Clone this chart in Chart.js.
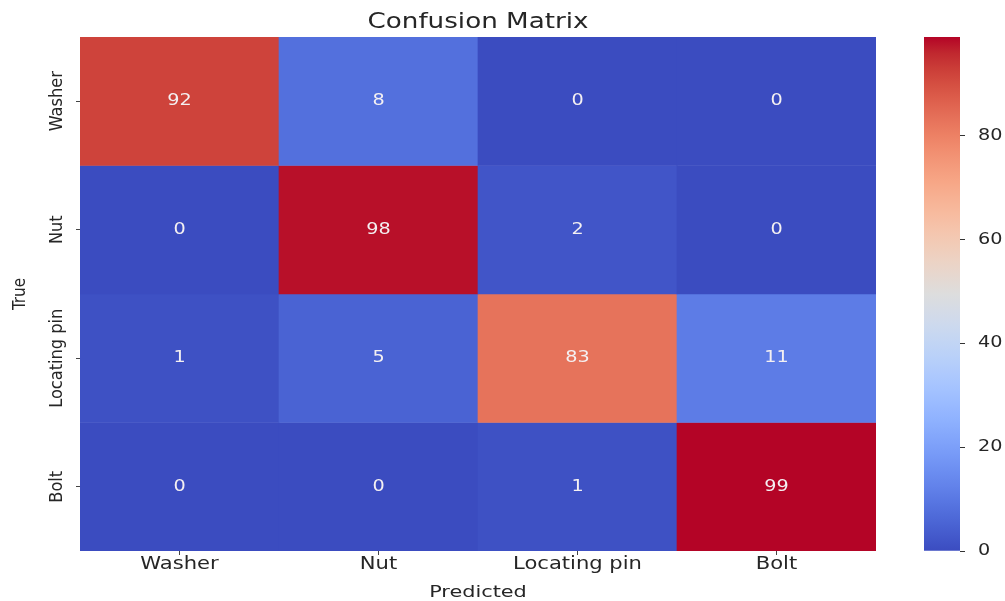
<!DOCTYPE html>
<html>
<head>
<meta charset="utf-8">
<script src="https://cdn.jsdelivr.net/npm/chart.js@4.4.1/dist/chart.umd.min.js"></script>
<style>
  html, body { margin: 0; padding: 0; background: #fff; }
  #wrap { position: relative; width: 1005px; height: 601px; }
  #heat { position: absolute; left: 0; top: 0; }
  #cbar { position: absolute; left: 880px; top: 0; }
</style>
</head>
<body>
<div id="wrap">
  <canvas id="heat" width="876" height="601"></canvas>
  <canvas id="cbar" width="125" height="601"></canvas>
</div>
<script>
// etiquetas de las clases
const predLabels = ['Washer', 'Nut', 'Locating pin', 'Bolt'];
const trueLabels = ['Washer', 'Nut', 'Locating pin', 'Bolt'];

// filas de la matriz (true) -> columnas (predicted)
const rowWasher = [92, 8, 0, 0];
const rowNut = [0, 98, 2, 0];
const rowLocating = [1, 5, 83, 11];
const rowBolt = [0, 0, 1, 99];
const rows = [rowWasher, rowNut, rowLocating, rowBolt];

// barra de color
const cbarTicks = [0, 20, 40, 60, 80];
const vmin = 0;
const vmax = 99;

const textColor = '#262626';

// mapa de color coolwarm (puntos de control)
const coolwarmStops = [
  [59, 76, 192], [68, 90, 204], [77, 104, 215], [87, 117, 225], [98, 130, 234],
  [108, 142, 241], [119, 154, 247], [130, 165, 251], [141, 176, 254], [152, 185, 255],
  [163, 194, 255], [174, 201, 253], [184, 208, 249], [194, 213, 244], [204, 217, 238],
  [213, 219, 230], [221, 221, 221], [229, 216, 209], [236, 211, 197], [241, 204, 184],
  [245, 196, 172], [247, 187, 159], [247, 177, 147], [247, 166, 134], [244, 154, 123],
  [241, 141, 111], [236, 127, 99], [229, 112, 89], [222, 96, 77], [213, 80, 66],
  [203, 62, 56], [192, 40, 47], [180, 4, 38]
];

function coolwarm(t) {
  t = Math.max(0, Math.min(1, t));
  const n = coolwarmStops.length - 1;
  const i = Math.min(n - 1, Math.floor(t * n));
  const f = t * n - i;
  const a = coolwarmStops[i], b = coolwarmStops[i + 1];
  const c = a.map((v, k) => Math.round(v + (b[k] - v) * f));
  return `rgb(${c[0]}, ${c[1]}, ${c[2]})`;
}

// el texto del original sale estirado a lo ancho
function stretchedText(ctx, text, x, y, sx) {
  ctx.save();
  ctx.translate(x, y);
  ctx.scale(sx, 1);
  ctx.fillText(text, 0, 0);
  ctx.restore();
}

/********** titulo, etiquetas y anotaciones **********/
const heatText = {
  id: 'heatText',
  afterDatasetsDraw(chart) {
    const ctx = chart.ctx;
    ctx.save();
    ctx.font = '16px "DejaVu Sans"';
    ctx.fillStyle = '#f4f0f2';
    ctx.textAlign = 'center';
    ctx.textBaseline = 'middle';
    rows.forEach((vals, r) => {
      const meta = chart.getDatasetMeta(r);
      meta.data.forEach((bar, i) => {
        stretchedText(ctx, String(vals[i]), bar.x, (bar.y + bar.base) / 2, 1.2);
      });
    });
    ctx.restore();
  },
  afterDraw(chart) {
    const ctx = chart.ctx;
    const area = chart.chartArea;
    const xScale = chart.scales.x;
    const yScale = chart.scales.y;
    const midX = (area.left + area.right) / 2;
    ctx.save();
    ctx.fillStyle = textColor;
    ctx.textAlign = 'center';
    ctx.textBaseline = 'alphabetic';
    // titulo
    ctx.font = '22px "DejaVu Sans"';
    stretchedText(ctx, 'Confusion Matrix', midX, 28, 1.19);
    // etiquetas eje X
    ctx.font = '17px "DejaVu Sans"';
    predLabels.forEach((lab, i) => {
      stretchedText(ctx, lab, xScale.getPixelForValue(i), 569, 1.24);
    });
    // titulo eje X
    ctx.font = '16px "DejaVu Sans"';
    stretchedText(ctx, 'Predicted', midX, 597, 1.3);
    // etiquetas eje Y giradas
    ctx.textBaseline = 'middle';
    ctx.font = '18px "DejaVu Sans Condensed", "Liberation Sans Narrow", "DejaVu Sans"';
    trueLabels.forEach((lab, r) => {
      const y = yScale.getPixelForValue(r + 0.5);
      ctx.save();
      ctx.translate(57, y);
      ctx.rotate(-Math.PI / 2);
      ctx.fillText(lab, 0, 0);
      ctx.restore();
    });
    ctx.restore();
  }
};

const heatDatasets = rows.map((vals, r) => ({
  label: trueLabels[r],
  data: vals.map(() => [r, r + 1]),
  backgroundColor: vals.map(v => coolwarm((v - vmin) / (vmax - vmin))),
  borderWidth: 0,
  borderSkipped: false,
  grouped: false,
  barPercentage: 1,
  categoryPercentage: 1
}));

new Chart(document.getElementById('heat').getContext('2d'), {
  type: 'bar',
  data: { labels: predLabels, datasets: heatDatasets },
  options: {
    responsive: false,
    animation: false,
    layout: { padding: { top: 37, right: 0, left: 0, bottom: 0 } },
    plugins: { legend: { display: false }, tooltip: { enabled: false }, title: { display: false } },
    scales: {
      x: {
        grid: { display: true, drawOnChartArea: false, offset: false, tickLength: 4, color: '#444' },
        border: { display: false },
        ticks: { display: false },
        afterFit(scale) { scale.height = 50; }
      },
      y: {
        type: 'linear',
        reverse: true,
        min: 0,
        max: trueLabels.length,
        afterBuildTicks(scale) { scale.ticks = trueLabels.map((_, r) => ({ value: r + 0.5 })); },
        grid: { display: true, drawOnChartArea: false, tickLength: 4, color: '#444' },
        border: { display: false },
        ticks: { display: false },
        title: { display: true, text: 'True', color: textColor, font: { family: '"DejaVu Sans Condensed", "Liberation Sans Narrow", "DejaVu Sans"', size: 17 }, padding: { top: 10, bottom: 0 } },
        afterFit(scale) { scale.width = 80; }
      }
    }
  },
  plugins: [heatText]
});

/********** barra de color **********/
function cbarGradient(context) {
  const chart = context.chart;
  const area = chart.chartArea;
  if (!area) return coolwarm(0.5);
  const g = chart.ctx.createLinearGradient(0, area.bottom, 0, area.top);
  coolwarmStops.forEach((c, k) => {
    g.addColorStop(k / (coolwarmStops.length - 1), `rgb(${c[0]}, ${c[1]}, ${c[2]})`);
  });
  return g;
}

const cbarText = {
  id: 'cbarText',
  afterDraw(chart) {
    const ctx = chart.ctx;
    const yScale = chart.scales.y;
    ctx.save();
    ctx.fillStyle = textColor;
    ctx.font = '16px "DejaVu Sans"';
    ctx.textAlign = 'left';
    ctx.textBaseline = 'middle';
    cbarTicks.forEach(v => {
      stretchedText(ctx, String(v), chart.chartArea.right + 18, yScale.getPixelForValue(v), 1.2);
    });
    ctx.restore();
  }
};

new Chart(document.getElementById('cbar').getContext('2d'), {
  type: 'bar',
  data: {
    labels: [''],
    datasets: [{
      data: [[vmin, vmax]],
      backgroundColor: cbarGradient,
      borderWidth: 0,
      barPercentage: 1,
      categoryPercentage: 1
    }]
  },
  options: {
    responsive: false,
    animation: false,
    layout: { padding: { top: 37, bottom: 50, left: 44, right: 0 } },
    plugins: { legend: { display: false }, tooltip: { enabled: false } },
    scales: {
      x: { display: false },
      y: {
        position: 'right',
        min: vmin,
        max: vmax,
        afterBuildTicks(scale) { scale.ticks = cbarTicks.map(v => ({ value: v })); },
        grid: { display: true, drawOnChartArea: false, tickLength: 5, color: '#333' },
        border: { display: false },
        ticks: { display: false },
        afterFit(scale) { scale.width = 45; }
      }
    }
  },
  plugins: [cbarText]
});
</script>
</body>
</html>
